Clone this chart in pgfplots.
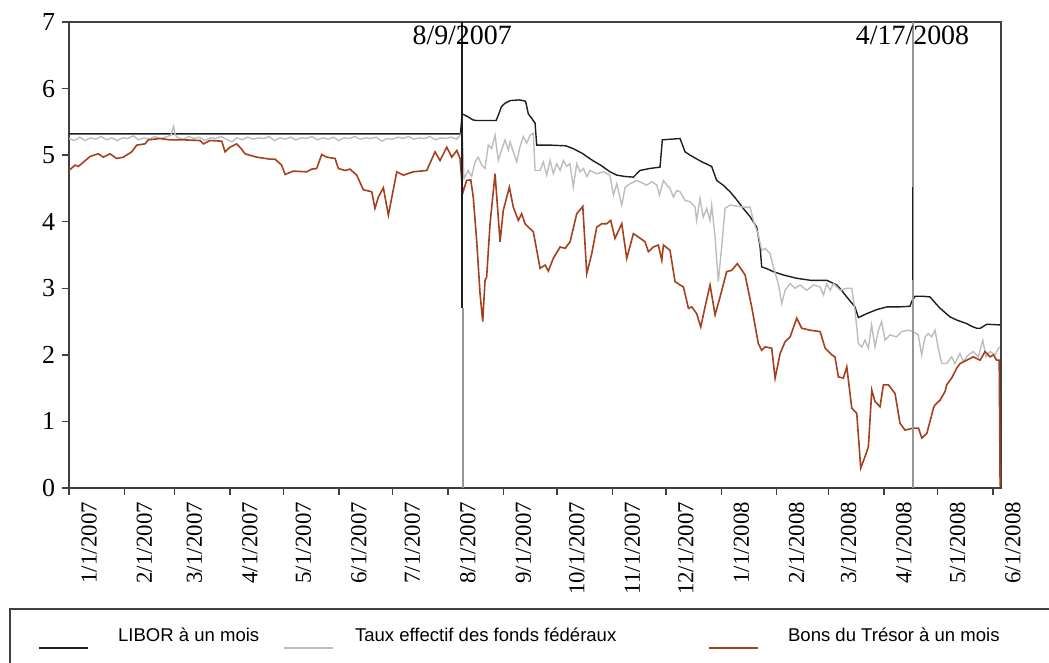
\documentclass[border=0pt]{standalone}
\usepackage{fontspec}
\setmainfont{Liberation Serif}
\setsansfont{Liberation Sans}
\usepackage{pgfplots}
\pgfplotsset{compat=1.18}
\definecolor{libor}{HTML}{1E1E1E}
\definecolor{ffr}{HTML}{BDBDBD}
\definecolor{tbill}{HTML}{A5401E}
\definecolor{axgray}{HTML}{404040}
\begin{document}
\begin{tikzpicture}
\begin{axis}[
  scale only axis, width=466bp, height=233bp,
  xmin=0, xmax=521.5, ymin=0, ymax=7,
  axis line style={axgray, line width=0.75bp},
  tick style={axgray, line width=0.75bp},
  tick align=outside, tick pos=left,
  major tick length=3.5bp,
  ytick={0,1,2,3,4,5,6,7},
  xtick={0,31,59,90,120,151,181,212,243,273,304,334,365,396,425,456,486,517},
  xticklabels={1/1/2007,2/1/2007,3/1/2007,4/1/2007,5/1/2007,6/1/2007,7/1/2007,8/1/2007,9/1/2007,10/1/2007,11/1/2007,12/1/2007,1/1/2008,2/1/2008,3/1/2008,4/1/2008,5/1/2008,6/1/2008},
  xticklabel style={font=\fontsize{11.5}{12}\selectfont, rotate=90, anchor=east, yshift=-10bp},
  yticklabel style={font=\fontsize{13}{14}\selectfont},
  /pgf/number format/assume math mode=true,
  legend columns=3,
  legend style={draw=none, fill=none, font=\sffamily\fontsize{9.3}{11}\selectfont,
    at={(axis description cs:-0.0397,-0.2811)}, anchor=north west,
    /tikz/every odd column/.append style={column sep=12.5bp},
    /tikz/every even column/.append style={column sep=10bp}},
  legend image code/.code={\draw[#1, line width=0.9bp] (0bp,-6bp) -- (24.5bp,-6bp);},
]
\addplot[libor, line width=0.7bp] coordinates {
(0,5.32) (219,5.32) (220,5.62) (223,5.58) (226,5.53) (228,5.52) (239,5.52) (240.5,5.62) (242,5.73) (244,5.78) (247,5.82) (252,5.83) (255.5,5.81) (257,5.62) (259,5.55) (260.8,5.48) (261.7,5.15) (270,5.15) (278,5.14) (282,5.10) (287,5.03) (293,4.92) (298,4.84) (302.7,4.75) (306.5,4.70) (311,4.68) (315.8,4.67) (319.5,4.77) (325,4.80) (330.7,4.82) (332,5.23) (341.9,5.25) (344.7,5.05) (347.5,5.00) (354.1,4.90) (359.6,4.83) (362.4,4.62) (366,4.55) (369.9,4.45) (373,4.35) (377.3,4.20) (381,4.08) (384.8,3.92) (386.7,3.62) (387.6,3.32) (390,3.30) (394.1,3.25) (399.7,3.20) (407.2,3.15) (415,3.12) (424,3.12) (429.6,3.05) (432,2.98) (435.2,2.87) (439.8,2.72) (441.7,2.56) (446.4,2.62) (452,2.68) (457.6,2.72) (464,2.72) (470.6,2.73) (471.5,2.80) (473.4,2.88) (478,2.88) (481.8,2.87) (484,2.80) (487.4,2.70) (493,2.57) (497,2.52) (502.3,2.47) (505,2.43) (507.9,2.40) (510,2.40) (513.5,2.46) (521,2.45)
};
\addlegendentry{LIBOR à un mois}
\addplot[ffr, line width=0.7bp] coordinates {
(0,5.25) (3,5.22) (6,5.27) (9,5.22) (12,5.26) (15,5.24) (18,5.28) (21,5.23) (24,5.26) (27,5.22) (30,5.26) (33,5.25) (36,5.29) (39,5.23) (42,5.26) (45,5.24) (48,5.28) (51,5.25) (54,5.27) (57,5.30) (58.5,5.43) (59.5,5.30) (61,5.26) (64,5.24) (67,5.28) (70,5.25) (73,5.27) (76,5.22) (79,5.26) (82,5.25) (85,5.28) (88,5.24) (91,5.20) (94,5.26) (97,5.23) (100,5.27) (103,5.24) (106,5.26) (109,5.25) (112,5.28) (115,5.22) (118,5.26) (121,5.24) (124,5.27) (127,5.23) (130,5.26) (133,5.25) (136,5.28) (139,5.23) (142,5.26) (145,5.24) (148,5.27) (151,5.22) (154,5.26) (157,5.25) (160,5.28) (163,5.24) (166,5.26) (169,5.25) (172,5.27) (175,5.21) (178,5.25) (181,5.24) (184,5.27) (187,5.25) (190,5.28) (193,5.24) (196,5.26) (199,5.25) (202,5.28) (205,5.23) (208,5.26) (211,5.25) (214,5.27) (217,5.24) (219,5.30)
(220,5.35) (221,4.65) (223.4,4.77) (225.3,4.68) (227.2,4.90) (229,4.97) (230.9,4.85) (232.8,4.80) (234.6,5.15) (236.5,5.10) (238.4,5.30) (240.2,4.92) (242.1,5.08) (244,5.23) (245.8,5.08) (246.8,5.20) (248.6,5.05) (250.5,4.90) (252.4,5.13) (254.2,5.28) (256.1,5.18) (258,5.30) (259.8,5.33) (260.8,4.77) (263.6,4.77) (265.4,4.90) (267.3,4.70) (269.2,4.92) (271,4.72) (272.9,4.87) (274.8,4.77) (276.6,4.92) (278.5,4.83) (280.3,4.87) (282.2,4.52) (284.1,4.87) (285.9,4.75) (287.8,4.80) (289.7,4.68) (291.5,4.77) (295.3,4.72) (299,4.75) (302.7,4.70) (304.6,4.40) (306.5,4.57) (309.3,4.25) (311.2,4.52) (314,4.57) (317.7,4.62) (323.3,4.55) (326.1,4.60) (328.9,4.55) (330.4,4.40) (332.6,4.62) (334.5,4.55) (336.3,4.50) (338.2,4.37) (340.1,4.47) (341.9,4.45) (344.7,4.32) (347.5,4.30) (350.3,4.22) (351.2,4.02) (353.1,4.35) (354.9,4.07) (356.8,4.20) (358.7,4.02) (359.6,4.25) (361.5,3.77) (363.3,3.10) (365.2,3.62) (367.1,4.20) (369.9,4.25) (377.3,4.22) (381.1,4.22) (382.9,4.02) (385.7,3.80) (387.6,3.57) (389.5,3.60) (392.3,3.52) (394.1,3.32) (396.9,3.07) (398.8,2.77) (400.7,2.97) (403.5,3.07) (406.3,3.00) (409.1,3.05) (412.8,2.97) (416.6,3.05) (420.3,3.02) (422.2,2.90) (424,3.07) (425.9,2.97) (427.8,3.07) (431.5,2.97) (435.2,3.00) (438,3.00) (439.8,2.67) (441.7,2.17) (443.6,2.12) (445.4,2.22) (447.3,2.10) (449.1,2.45) (451,2.12) (452.9,2.37) (454.7,2.50) (456.6,2.22) (459.4,2.30) (463.1,2.27) (465.9,2.35) (469.6,2.37) (472.4,2.35) (475.2,2.30) (477.1,2.00) (479,2.27) (480.8,2.32) (482.7,2.27) (484.6,2.37) (486.4,2.10) (488.3,1.87) (491.1,1.87) (493.9,1.97) (495.7,1.87) (498.5,2.02) (500.4,1.90) (503.2,2.00) (506,2.05) (508.8,1.97) (511.3,2.22) (513.1,1.97) (515.4,2.05) (518.2,2.00) (520.6,2.12)
};
\addlegendentry{\hspace*{-4bp}Taux effectif des fonds fédéraux\rule{34bp}{0pt}}
\addplot[tbill, line width=0.8bp] coordinates {
(0,4.77) (3.4,4.85) (5.2,4.83) (11.8,4.98) (16.4,5.02) (19.2,4.97) (22.9,5.02) (26.7,4.95) (30.4,4.97) (35.1,5.05) (37.9,5.15) (42.5,5.17) (44.4,5.23) (50.9,5.25) (56.5,5.23) (64,5.23) (73.3,5.22) (75.2,5.17) (78.9,5.22) (85.5,5.21) (87.3,5.05) (90.1,5.12) (93.8,5.17) (96.6,5.09) (98.5,5.02) (105,4.97) (112.5,4.94) (115.3,4.94) (119,4.85) (120.9,4.71) (125.5,4.76) (133,4.75) (135.8,4.79) (138.6,4.80) (141.4,5.01) (144.2,4.97) (148.9,4.95) (150.7,4.80) (154.5,4.77) (157.2,4.79) (161,4.70) (164.7,4.48) (169.4,4.45) (171.2,4.20) (173.1,4.37) (175.9,4.51) (178.7,4.10) (183.4,4.75) (187.1,4.70) (192.7,4.75) (200.2,4.77) (204.8,5.05) (207.6,4.92) (211.4,5.12) (214.2,4.97) (217,5.07) (218.8,4.95)
(220.3,4.43) (222.5,4.62) (224.8,4.63) (226.2,4.37) (228.1,3.72) (230,2.92) (231.5,2.50) (232.8,3.12) (233.7,3.17) (235.6,3.97) (238.4,4.72) (241.2,3.70) (243,4.17) (246.4,4.52) (248.6,4.22) (251.4,4.02) (253.3,4.12) (255.2,3.97) (257,3.92) (259.8,3.85) (263.6,3.30) (266.4,3.35) (268.2,3.26) (271,3.45) (274.8,3.62) (277.6,3.60) (280.4,3.70) (284.1,4.12) (287.5,4.23) (289.7,3.22) (292.5,3.52) (295.3,3.92) (298.1,3.97) (300.9,3.97) (303.1,4.02) (305.5,3.75) (309.3,3.97) (312.1,3.45) (315.8,3.82) (318.6,3.77) (322.3,3.70) (324.2,3.55) (327,3.62) (329.8,3.65) (331.7,3.42) (332.6,3.65) (336.3,3.57) (339.1,3.10) (341.9,3.05) (343.8,3.02) (346.6,2.70) (348.5,2.72) (351.2,2.62) (353.5,2.42) (355.9,2.72) (358.7,3.05) (361.5,2.60) (364.3,2.87) (368,3.25) (370.8,3.27) (374,3.37) (378.3,3.20) (382,2.72) (385.7,2.17) (387.6,2.07) (389.5,2.12) (393.2,2.10) (395.1,1.65) (397.9,2.02) (400.7,2.20) (403.5,2.27) (407.2,2.55) (410,2.40) (414.7,2.37) (420.3,2.35) (423.1,2.10) (426.8,2.00) (428.6,1.97) (430.5,1.67) (433.3,1.65) (435.2,1.82) (438,1.20) (440.8,1.12) (443,0.30) (445.4,0.47) (447.3,0.62) (449.2,1.47) (451,1.30) (453.8,1.22) (455.7,1.55) (458.5,1.55) (462.2,1.42) (465,0.97) (467.8,0.87) (472.5,0.90) (475.3,0.90) (477.2,0.75) (480,0.82) (483.7,1.20) (484.6,1.25) (487.4,1.32) (490.2,1.45) (491.1,1.55) (493.9,1.65) (496.7,1.80) (498.6,1.87) (502.3,1.92) (506,1.97) (509.8,1.92) (512.6,2.05) (515.4,1.97) (517.2,2.00) (519.1,1.92) (520.5,1.92) (521,0.02)
};
\addlegendentry{Bons du Trésor à un mois}
% event markers
\addplot[libor, line width=0.7bp, forget plot] coordinates {(220,7) (220,2.7)};
\addplot[ffr!80!black, line width=1.4bp, forget plot] coordinates {(220.5,2.7) (220.5,0)};
\addplot[ffr!80!black, line width=1.4bp, forget plot] coordinates {(472.3,7) (472.3,0)};
\addplot[libor, line width=0.6bp, forget plot] coordinates {(472,4.52) (472,3.12)};
\node[anchor=north, inner sep=0pt, yshift=-2bp, font=\fontsize{14}{15}\selectfont] at (axis cs:220,7) {8/9/2007};
\node[anchor=north, inner sep=0pt, yshift=-2bp, font=\fontsize{14}{15}\selectfont] at (axis cs:472,7) {4/17/2008};
\end{axis}
\draw[axgray, line width=0.6bp] (-29.5bp,-60.5bp) rectangle (520bp,-120bp);
\pgfresetboundingbox
\useasboundingbox (-34.5bp,-87.5bp) rectangle (490bp,244bp);
\end{tikzpicture}
\end{document}
